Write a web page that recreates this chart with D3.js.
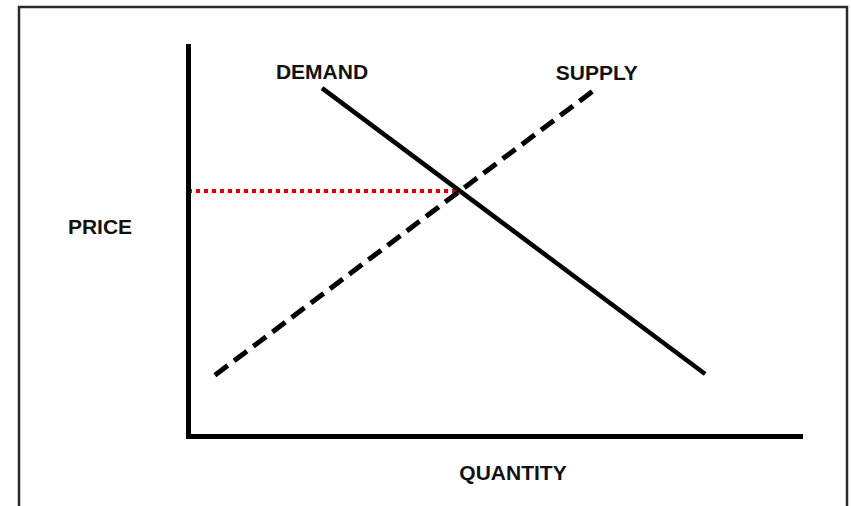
<!DOCTYPE html>
<html>
<head>
<meta charset="utf-8">
<script src="https://cdn.jsdelivr.net/npm/d3@7"></script>
<style>
  body { margin: 0; background: #fff; }
  svg text { font-family: "Liberation Sans", Arial, sans-serif; font-weight: bold; fill: #111; }
</style>
</head>
<body>
<div id="graph"></div>
<script>
// curve end points, in price/quantity units (0-100)
let demandPoints = [[21.9, 89.2], [84.5, 15.9]];
let supplyPoints = [[4.4, 15.6], [66.8, 89.2]];
let equilibrium = [44.8, 62.8];
let curveLabels = ["DEMAND", "SUPPLY"];
let axisLabels = ["QUANTITY", "PRICE"];

let width = 851, height = 506;

let svg = d3.select("#graph")
    .append("svg")
    .attr("width", width)
    .attr("height", height);

// outer frame (bottom edge runs off the picture)
svg.append("rect")
    .attr("x", 19)
    .attr("y", 7)
    .attr("width", 828)
    .attr("height", 530)
    .attr("fill", "none")
    .attr("stroke", "#2a2a2a")
    .attr("stroke-width", 2.5);

let x = d3.scaleLinear().domain([0, 100]).range([188, 800]);
let y = d3.scaleLinear().domain([0, 100]).range([436, 46]);

let line = d3.line().x(d => x(d[0])).y(d => y(d[1]));

// price level at equilibrium
svg.append("path")
    .attr("d", line([[0, equilibrium[1]], [equilibrium[0] - 0.6, equilibrium[1]]]))
    .attr("fill", "none")
    .attr("stroke", "#e30000")
    .attr("stroke-width", 4)
    .attr("stroke-dasharray", "4,4");

svg.append("path")
    .attr("d", line(supplyPoints))
    .attr("fill", "none")
    .attr("stroke", "#000")
    .attr("stroke-width", 5)
    .attr("stroke-dasharray", "16,8");

svg.append("path")
    .attr("d", line(demandPoints))
    .attr("fill", "none")
    .attr("stroke", "#000")
    .attr("stroke-width", 4.5);

// axes: no ticks, only the heavy domain lines
let xAxis = svg.append("g")
    .attr("transform", `translate(0, ${y(0)})`)
    .call(d3.axisBottom(x).ticks(0).tickSizeOuter(0));
let yAxis = svg.append("g")
    .attr("transform", `translate(${x(0)}, 0)`)
    .call(d3.axisLeft(y).ticks(0).tickSizeOuter(0));

svg.selectAll(".domain")
    .attr("stroke", "#000")
    .attr("stroke-width", 5)
    .attr("stroke-linecap", "square");

// curve labels sit above the top end of each curve
svg.append("text")
    .attr("x", x(demandPoints[0][0]))
    .attr("y", y(demandPoints[0][1]) - 9)
    .attr("text-anchor", "middle")
    .style("font-size", "21px")
    .text(curveLabels[0]);

svg.append("text")
    .attr("x", x(supplyPoints[1][0]))
    .attr("y", y(supplyPoints[1][1]) - 8)
    .attr("text-anchor", "middle")
    .style("font-size", "21px")
    .text(curveLabels[1]);

svg.append("text")
    .attr("x", (x(0) + x(100)) / 2 + 19)
    .attr("y", y(0) + 44)
    .attr("text-anchor", "middle")
    .style("font-size", "21px")
    .text(axisLabels[0]);

svg.append("text")
    .attr("x", 100)
    .attr("y", 234)
    .attr("text-anchor", "middle")
    .style("font-size", "21px")
    .text(axisLabels[1]);
</script>
</body>
</html>
